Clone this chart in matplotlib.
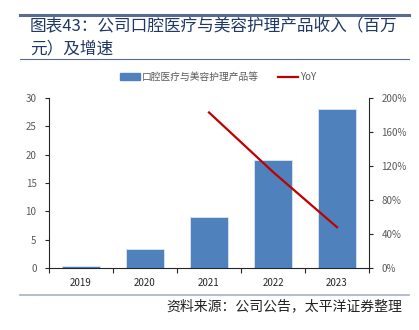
import numpy as np
import matplotlib.pyplot as plt
from matplotlib.lines import Line2D
from matplotlib.patches import Patch
from matplotlib.ticker import FuncFormatter

plt.rcParams['font.family'] = ['Noto Sans CJK SC', 'DejaVu Sans']

years = ['2019', '2020', '2021', '2022', '2023']
revenue = [0.35, 3.3, 9.0, 19.0, 28.0]
yoy = [None, None, 183, 113, 48]

bar_color = '#4F81BD'
line_color = '#C00000'
text_gray = '#595959'
navy = '#1F3864'

fig = plt.figure(figsize=(4.19, 3.30), dpi=100)

# title block with rules above and below
fig.add_artist(Line2D([20 / 419, 409 / 419], [1 - 15 / 330, 1 - 15 / 330],
                      color='#5B6B8F', lw=2.2))
fig.add_artist(Line2D([20 / 419, 409 / 419], [1 - 59 / 330, 1 - 59 / 330],
                      color='#5B6B8F', lw=0.8))
fig.add_artist(Line2D([20 / 419, 409 / 419], [1 - 295 / 330, 1 - 295 / 330],
                      color='#A8B0C8', lw=1.2))
fig.text(30 / 419, 1 - 27 / 330, '图表43：公司口腔医疗与美容护理产品收入（百万',
         fontsize=12, color=navy, va='center', ha='left')
fig.text(30 / 419, 1 - 49 / 330, '元）及增速',
         fontsize=12, color=navy, va='center', ha='left')
fig.text(402 / 419, 1 - 306 / 330, '资料来源：公司公告，太平洋证券整理',
         fontsize=10, color='#222222', va='center', ha='right', style='italic')

ax = fig.add_axes([49 / 419, 1 - 268 / 330, 320 / 419, 170 / 330])
x = np.arange(len(years))
ax.bar(x, revenue, width=0.6, color=bar_color, edgecolor='#DCE6F2', lw=0.6,
       zorder=2)
ax.set_xlim(-0.5, len(years) - 0.5)
ax.set_ylim(0, 30)
ax.set_yticks(range(0, 31, 5))
ax.set_xticks(x)
ax.set_xticklabels(years)
ax.set_xticks(np.arange(-0.5, len(years)), minor=True)
ax.tick_params(axis='x', which='major', length=0, pad=7, labelsize=7,
               labelcolor='#262626')
ax.tick_params(axis='x', which='minor', length=3.5, direction='out',
               color='#262626', width=0.8)
ax.tick_params(axis='y', length=3, direction='out', labelsize=7,
               labelcolor=text_gray, color='#262626', pad=6, width=0.8)
for side in ['top', 'right']:
    ax.spines[side].set_visible(False)
for side in ['left', 'bottom']:
    ax.spines[side].set_color('#262626')
    ax.spines[side].set_linewidth(0.8)

ax2 = ax.twinx()
yx = [i for i, v in enumerate(yoy) if v is not None]
yv = [v for v in yoy if v is not None]
ax2.plot(yx, yv, color=line_color, lw=1.6, zorder=3)
ax2.set_ylim(0, 200)
ax2.set_yticks(range(0, 201, 40))
ax2.yaxis.set_major_formatter(FuncFormatter(lambda v, p: '%d%%' % v))
ax2.tick_params(axis='y', length=3, direction='out', labelsize=7,
                labelcolor=text_gray, color='#262626', pad=6, width=0.8)
for side in ['top', 'left', 'bottom']:
    ax2.spines[side].set_visible(False)
ax2.spines['right'].set_color('#262626')
ax2.spines['right'].set_linewidth(0.8)

handles = [Patch(color=bar_color), Line2D([0], [0], color=line_color, lw=1.6)]
fig.legend(handles, ['口腔医疗与美容护理产品等', 'YoY'], loc='center',
           bbox_to_anchor=(218 / 419, 1 - 77 / 330), ncol=2, frameon=False,
           fontsize=7, labelcolor=text_gray, handlelength=2.0,
           handleheight=0.6, columnspacing=2.0, handletextpad=0.2)

fig.savefig('out.png', dpi=100)
